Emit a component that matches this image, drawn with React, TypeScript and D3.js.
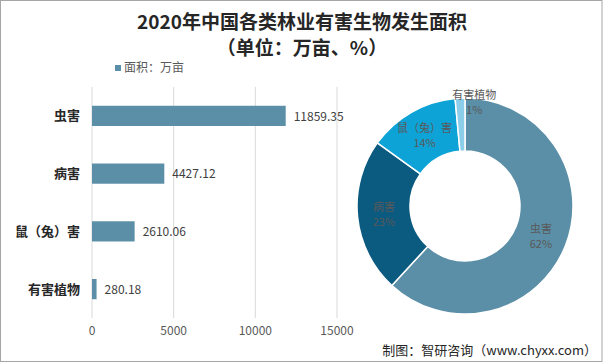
import * as d3 from 'd3';

const categories = ['虫害', '病害', '鼠（兔）害', '有害植物'];
const areas = [11859.35, 4427.12, 2610.06, 280.18];
const xTicks = [0, 5000, 10000, 15000];
const sliceColors = ['#5b8fa7', '#0b5a80', '#0ea3d6', '#8ccdea'];

const W = 603;
const H = 363;
const FONT = '"Noto Sans CJK SC", "Noto Sans", sans-serif';

export default function App() {
  // bar chart scales
  const x = d3.scaleLinear().domain([0, 15000]).range([92, 337]);
  const y = d3
    .scaleBand<string>()
    .domain(categories)
    .range([87, 318])
    .paddingInner(0.65)
    .paddingOuter(0.325);

  // donut
  const cx = 465;
  const cy = 206;
  const outerR = 108;
  const innerR = 55;
  const pie = d3.pie<number>().sort(null);
  const arcs = pie(areas);
  const arcGen = d3
    .arc<d3.PieArcDatum<number>>()
    .innerRadius(innerR)
    .outerRadius(outerR);
  const total = d3.sum(areas);

  return (
    <svg
      width={W}
      height={H}
      style={{ position: 'absolute', left: 0, top: 0, fontFamily: FONT }}
    >
      <rect x={0} y={0} width={W} height={H} fill="#fff" />
      <rect
        x={0.5}
        y={0.5}
        width={W - 1.5}
        height={H - 2}
        fill="none"
        stroke="#a6a6a6"
      />

      {/* title */}
      <text
        x={302}
        y={29}
        textAnchor="middle"
        fontSize={19}
        fontWeight="bold"
        fill="#262626"
      >
        2020年中国各类林业有害生物发生面积
      </text>
      <text
        x={302}
        y={55}
        textAnchor="middle"
        fontSize={19}
        fontWeight="bold"
        fill="#262626"
      >
        （单位：万亩、%）
      </text>

      {/* legend */}
      <rect x={115} y={65} width={6} height={6} fill={sliceColors[0]} />
      <text x={124} y={72} fontSize={12} fill="#595959">
        面积：万亩
      </text>

      {/* grid */}
      {xTicks.map((t) => (
        <g key={t}>
          <line
            x1={x(t)}
            x2={x(t)}
            y1={y.range()[0]}
            y2={y.range()[1]}
            stroke="#d9d9d9"
          />
          <text
            x={x(t)}
            y={335}
            textAnchor="middle"
            fontSize={12}
            fill="#595959"
          >
            {t}
          </text>
        </g>
      ))}

      {/* bars */}
      {categories.map((c, i) => (
        <g key={c}>
          <rect
            x={x(0)}
            y={y(c)}
            width={x(areas[i]) - x(0)}
            height={y.bandwidth()}
            fill={sliceColors[0]}
          />
          <text
            x={80}
            y={(y(c) ?? 0) + y.bandwidth() / 2}
            dy="0.35em"
            textAnchor="end"
            fontSize={13}
            fontWeight="bold"
            fill="#262626"
          >
            {c}
          </text>
          <text
            x={x(areas[i]) + 8}
            y={(y(c) ?? 0) + y.bandwidth() / 2}
            dy="0.4em"
            fontSize={12}
            fill="#404040"
          >
            {areas[i].toFixed(2)}
          </text>
        </g>
      ))}

      {/* donut */}
      <g transform={`translate(${cx},${cy})`}>
        {arcs.map((a, i) => (
          <path
            key={categories[i]}
            d={arcGen(a) ?? ''}
            fill={sliceColors[i]}
            stroke="#fff"
            strokeWidth={1.5}
          />
        ))}
        {arcs.map((a, i) => {
          const small = a.endAngle - a.startAngle < 0.2;
          let [lx, ly] = arcGen.centroid(a);
          if (small) {
            // tiny slice: label pushed outward and aside like Excel does
            const r = outerR - 4;
            const mid = (a.startAngle + a.endAngle) / 2;
            lx = Math.sin(mid) * r + 14;
            ly = -Math.cos(mid) * r;
          }
          const pct = Math.round((areas[i] / total) * 100);
          return (
            <g key={categories[i]} fontSize={11} fill="#595959">
              <text x={lx} y={ly - 3} textAnchor="middle">
                {categories[i]}
              </text>
              <text x={lx} y={ly + 12} textAnchor="middle">
                {pct}%
              </text>
            </g>
          );
        })}
      </g>

      {/* source */}
      <text x={597} y={355} textAnchor="end" fontSize={13} fill="#262626">
        制图：智研咨询（www.chyxx.com）
      </text>
    </svg>
  );
}
